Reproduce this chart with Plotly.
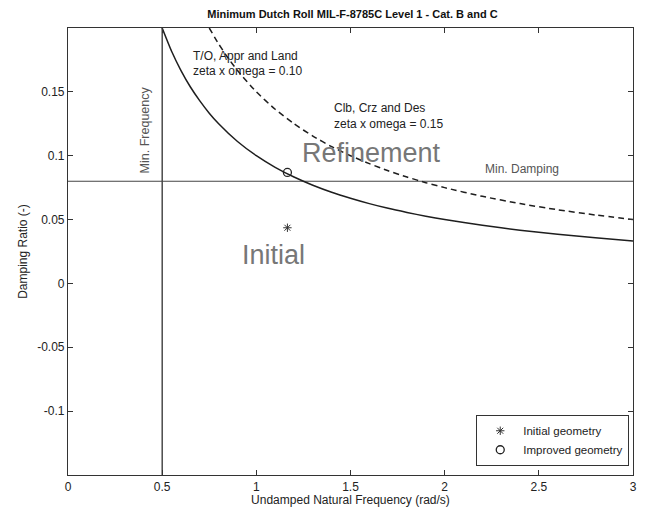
import plotly.graph_objects as go

# Data
omega_010 = [0.5, 0.55, 0.6, 0.65, 0.7, 0.75, 0.8, 0.9, 1.0, 1.1, 1.2, 1.3, 1.4, 1.5, 1.6, 1.7, 1.8, 1.9, 2.0, 2.2, 2.4, 2.6, 2.8, 3.0]
zeta_010 = [0.2, 0.1818, 0.1667, 0.1538, 0.1429, 0.1333, 0.125, 0.1111, 0.1, 0.0909, 0.0833, 0.0769, 0.0714, 0.0667, 0.0625, 0.0588, 0.0556, 0.0526, 0.05, 0.0455, 0.0417, 0.0385, 0.0357, 0.0333]

omega_015 = [0.75, 0.8, 0.85, 0.9, 1.0, 1.1, 1.2, 1.3, 1.4, 1.5, 1.6, 1.7, 1.8, 1.9, 2.0, 2.2, 2.4, 2.6, 2.8, 3.0]
zeta_015 = [0.2, 0.1875, 0.1765, 0.1667, 0.15, 0.1364, 0.125, 0.1154, 0.1071, 0.1, 0.0938, 0.0882, 0.0833, 0.0789, 0.075, 0.0682, 0.0625, 0.0577, 0.0536, 0.05]

min_frequency = 0.5
min_damping = 0.08
x_range = [0, 3]
y_range = [-0.15, 0.2]

initial_omega = [1.165]
initial_zeta = [0.0436]
improved_omega = [1.165]
improved_zeta = [0.0869]

x_ticks = [0, 0.5, 1, 1.5, 2, 2.5, 3]
y_ticks = [-0.1, -0.05, 0, 0.05, 0.1, 0.15]

FONT = "Arial, Liberation Sans, sans-serif"
LINE = "#1e1e1e"

fig = go.Figure()

fig.add_trace(go.Scatter(x=[min_frequency, min_frequency], y=y_range, mode="lines",
                         line=dict(color=LINE, width=1.2), showlegend=False, hoverinfo="skip"))
fig.add_trace(go.Scatter(x=x_range, y=[min_damping, min_damping], mode="lines",
                         line=dict(color="#444444", width=1.2), showlegend=False, hoverinfo="skip"))
fig.add_trace(go.Scatter(x=omega_010, y=zeta_010, mode="lines",
                         line=dict(color=LINE, width=1.5, shape="spline", smoothing=0.6), showlegend=False))
fig.add_trace(go.Scatter(x=omega_015, y=zeta_015, mode="lines",
                         line=dict(color=LINE, width=1.5, shape="spline", smoothing=0.6, dash="6px,4px"), showlegend=False))
fig.add_trace(go.Scatter(x=initial_omega, y=initial_zeta, mode="markers", name="Initial geometry",
                         marker=dict(symbol="asterisk-open", size=7, color="#333333",
                                     line=dict(color="#333333", width=1))))
fig.add_trace(go.Scatter(x=improved_omega, y=improved_zeta, mode="markers", name="Improved geometry",
                         marker=dict(symbol="circle-open", size=8, color="#222222",
                                     line=dict(color="#222222", width=1.3))))

anns = [
    dict(x=0.655, y=0.178, text="T/O, Appr and Land", xanchor="left"),
    dict(x=0.655, y=0.166, text="zeta x omega = 0.10", xanchor="left"),
    dict(x=1.4, y=0.137, text="Clb, Crz and Des", xanchor="left"),
    dict(x=1.4, y=0.125, text="zeta x omega = 0.15", xanchor="left"),
    dict(x=2.205, y=0.0895, text="Min. Damping", xanchor="left", color="#555555"),
]
for a in anns:
    fig.add_annotation(x=a["x"], y=a["y"], text=a["text"], xanchor=a["xanchor"], yanchor="middle",
                       showarrow=False, font=dict(family=FONT, size=12, color=a.get("color", "#222222")))

fig.add_annotation(x=0.41, y=0.12, text="Min. Frequency", textangle=-90, showarrow=False,
                   font=dict(family=FONT, size=12.5, color="#555555"))
fig.add_annotation(x=1.61, y=0.1025, text="Refinement", showarrow=False,
                   font=dict(family=FONT, size=27, color="#777777"))
fig.add_annotation(x=1.09, y=0.0225, text="Initial", showarrow=False,
                   font=dict(family=FONT, size=27, color="#777777"))

axis_common = dict(showline=True, linecolor="#333333", linewidth=1.2, mirror="ticks",
                   ticks="inside", ticklen=5, tickcolor="#333333", showgrid=False, zeroline=False,
                   tickfont=dict(family=FONT, size=12, color="#222222"))

fig.update_layout(
    width=646, height=514,
    margin=dict(l=68, r=9, t=28, b=39),
    paper_bgcolor="white", plot_bgcolor="white",
    title=dict(text="<b>Minimum Dutch Roll MIL-F-8785C Level 1 - Cat. B and C</b>",
               x=(68 + 637) / 2 / 646, xanchor="center", y=1 - 14 / 514, yanchor="middle",
               font=dict(family=FONT, size=11, color="#111111")),
    xaxis=dict(range=x_range, tickvals=x_ticks, ticktext=["0", "0.5", "1", "1.5", "2", "2.5", "3"],
               title=dict(text="Undamped Natural Frequency (rad/s)", standoff=2,
                          font=dict(family=FONT, size=12, color="#222222")), **axis_common),
    yaxis=dict(range=y_range, tickvals=y_ticks, ticktext=["-0.1", "-0.05", "0", "0.05", "0.1", "0.15"],
               title=dict(text="Damping Ratio (-)", standoff=6,
                          font=dict(family=FONT, size=12, color="#222222")), **axis_common),
    legend=dict(x=0.993, y=0.02, xanchor="right", yanchor="bottom", bgcolor="white",
                bordercolor="#333333", borderwidth=1.2, tracegroupgap=0, itemwidth=36,
                font=dict(family=FONT, size=11.5, color="#222222")),
    showlegend=True,
)

fig.write_html("out.html")
